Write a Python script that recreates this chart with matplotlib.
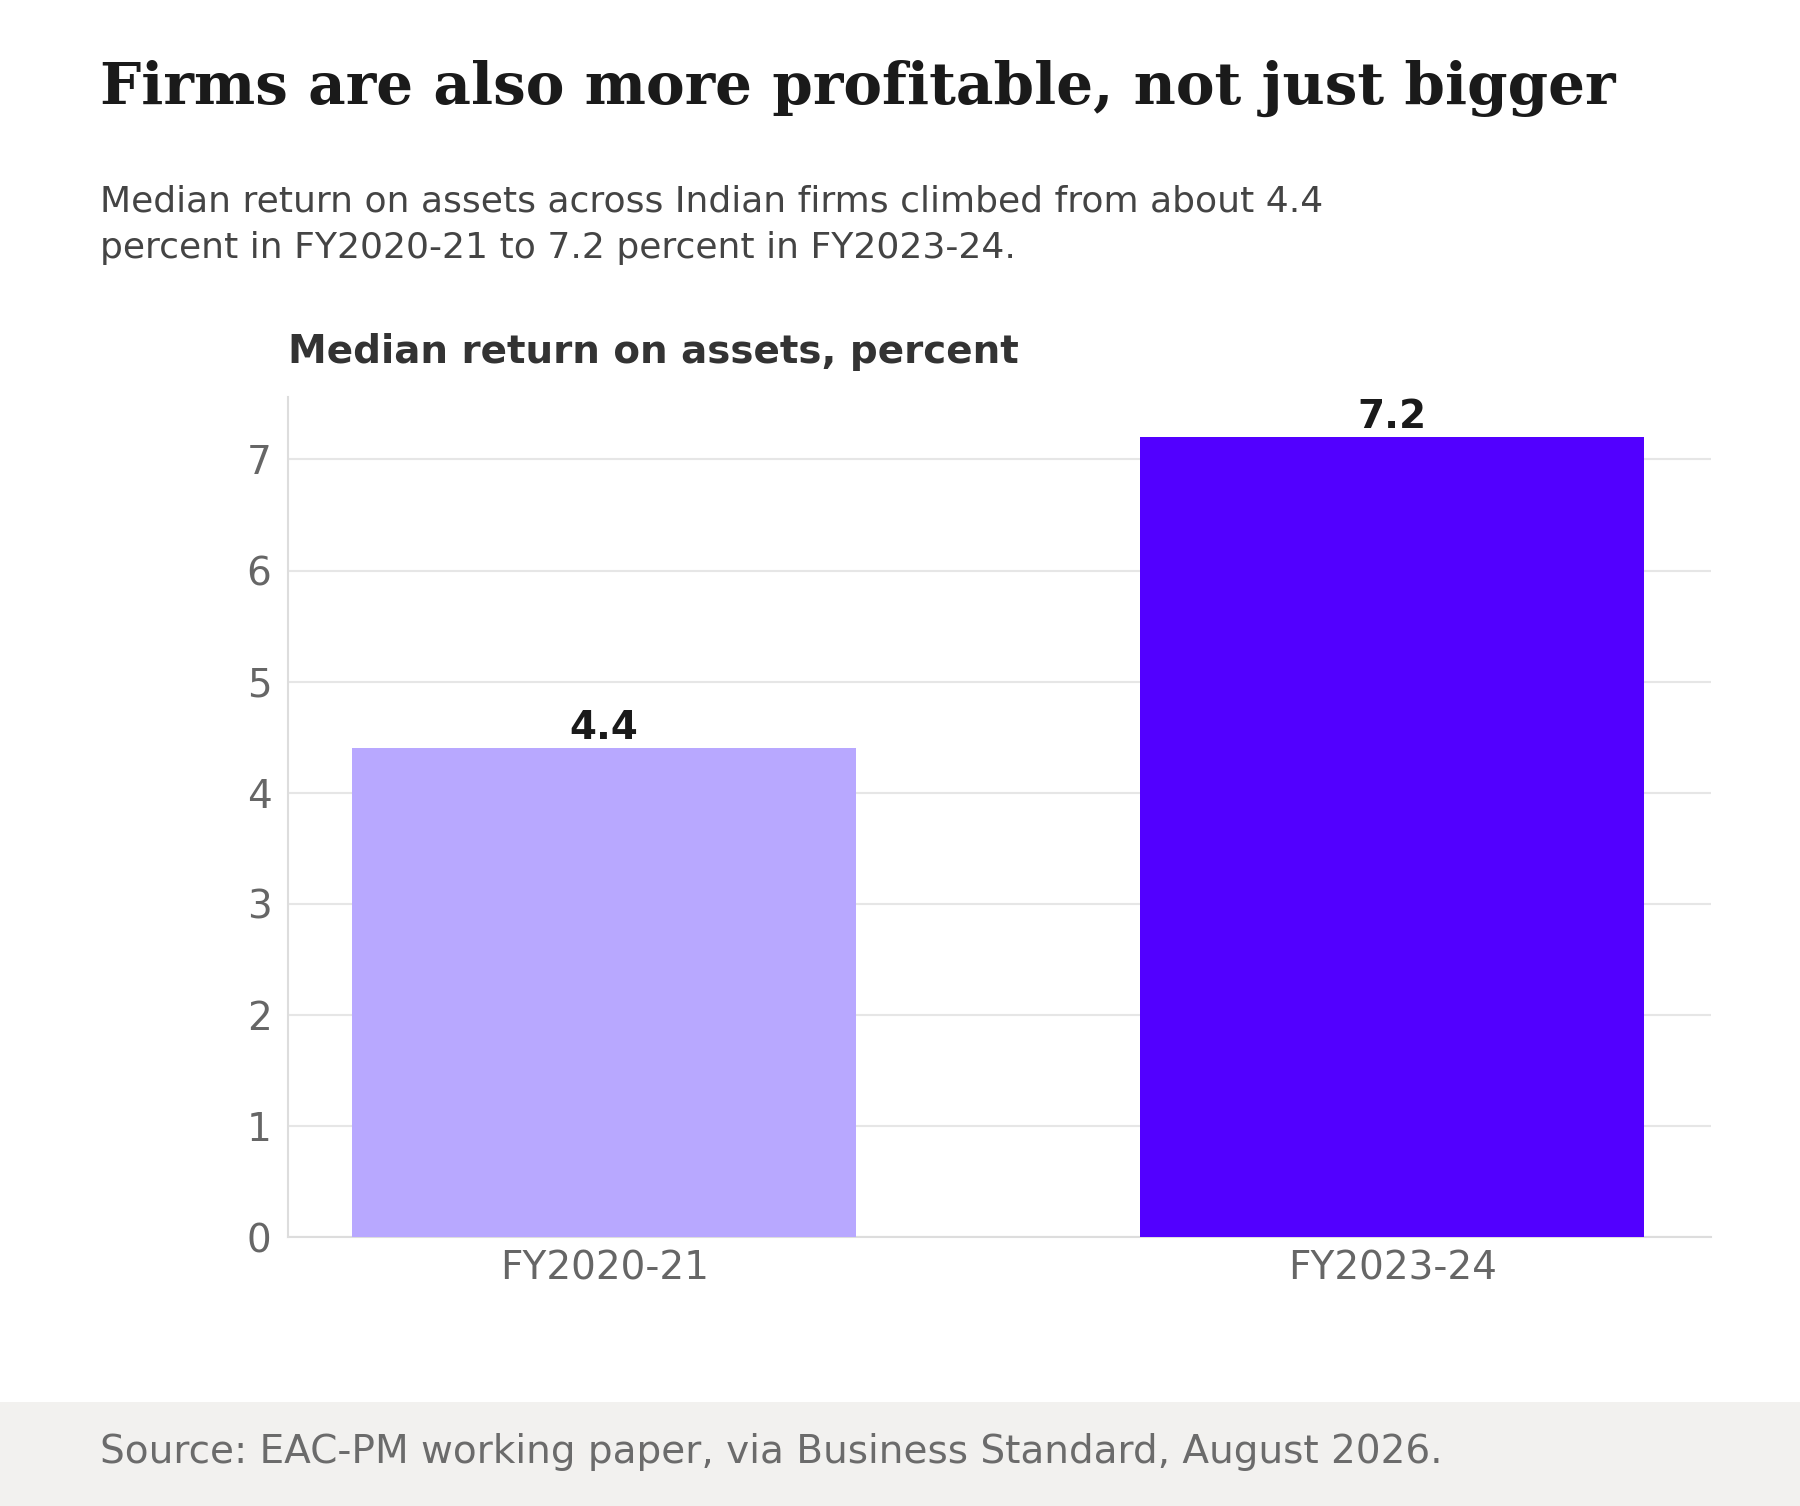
import matplotlib
matplotlib.use('Agg')
import matplotlib.pyplot as plt
from matplotlib.patches import Rectangle

plt.rcParams['font.family'] = ['DejaVu Sans']

# Data
years = ['FY2020-21', 'FY2023-24']
roa = [4.4, 7.2]
bar_colors = ['#b8a8ff', '#5200ff']
yticks = [0, 1, 2, 3, 4, 5, 6, 7]

title = 'Firms are also more profitable, not just bigger'
subtitle = ('Median return on assets across Indian firms climbed from about 4.4\n'
            'percent in FY2020-21 to 7.2 percent in FY2023-24.')
axis_title = 'Median return on assets, percent'
source = 'Source: EAC-PM working paper, via Business Standard, August 2026.'

W, H = 1800, 1506
fig = plt.figure(figsize=(W/100, H/100), dpi=100)
fig.patch.set_facecolor('white')

# footer band
fig.patches.append(Rectangle((0, 0), 1, 104/H, transform=fig.transFigure,
                             facecolor='#f2f1ef', edgecolor='none', zorder=0))
fig.text(100/W, 1 - 1452/H, source, fontsize=28.1, color='#6b6b6b', va='center')

fig.text(100/W, 1 - 104/H, title, family='DejaVu Serif', fontweight='bold',
         fontsize=41.8, color='#1a1a1a', va='baseline')
# va='baseline' pins the last line
fig.text(100/W, 1 - 258/H, subtitle, fontsize=26, color='#444444', va='baseline',
         linespacing=1.47)
fig.text(288/W, 1 - 363/H, axis_title, fontsize=28, fontweight='bold',
         color='#333333', va='baseline')

ax = fig.add_axes([0.1601, 0.1784, 0.9503 - 0.1601, 0.7363 - 0.1784])
x = range(len(years))
ax.bar(x, roa, width=0.64, color=bar_colors, zorder=3)
for xi, v in zip(x, roa):
    ax.annotate(f'{v:.1f}', xy=(xi, v), xytext=(0, 1), textcoords='offset points',
                ha='center', va='bottom', fontsize=28, fontweight='bold',
                color='#1a1a1a', zorder=4)

ax.set_xlim(-0.401, 1.404)
ax.set_ylim(0, 7.56)
ax.set_xticks(list(x))
ax.set_xticklabels(years)
ax.set_yticks(yticks)
ax.tick_params(axis='both', length=0, labelsize=28, labelcolor='#666666')
ax.tick_params(axis='y', pad=12)
ax.tick_params(axis='x', pad=9)
ax.grid(axis='y', color='#e6e6e6', linewidth=1.5, zorder=0)
ax.set_axisbelow(True)
for s in ['top', 'right']:
    ax.spines[s].set_visible(False)
for s in ['left', 'bottom']:
    ax.spines[s].set_color('#dddddd')
    ax.spines[s].set_linewidth(1.5)

plt.savefig('out.png', dpi=100)
plt.close()
